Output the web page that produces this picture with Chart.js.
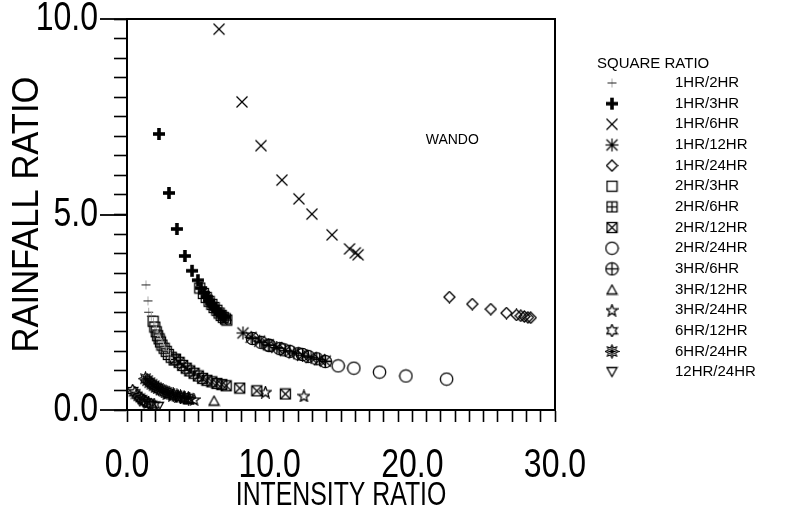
<!DOCTYPE html>
<html>
<head>
<meta charset="utf-8">
<script src="https://cdn.jsdelivr.net/npm/chart.js@4.4.1/dist/chart.umd.min.js"></script>
<style>
  html, body { margin: 0; padding: 0; background: #fff; }
  #wrap { width: 786px; height: 521px; }
</style>
</head>
<body>
<div id="wrap"><canvas id="c" width="786" height="521"></canvas></div>
<script>
// ---------------- DATA ----------------
const seriesLabels = ['1HR/2HR','1HR/3HR','1HR/6HR','1HR/12HR','1HR/24HR','2HR/3HR','2HR/6HR','2HR/12HR','2HR/24HR','3HR/6HR','3HR/12HR','3HR/24HR','6HR/12HR','6HR/24HR','12HR/24HR'];

const r1h2h = [[1.33,3.2],[1.47,2.79],[1.52,2.5],[1.7,2.4],[1.85,2.25],[1.95,2.15],[2.05,2.05],[2.15,1.95],[2.25,1.85],[2.35,1.78],[2.45,1.7],[2.55,1.63],[2.65,1.57],[2.75,1.5],[2.9,1.45],[3.05,1.38]];
const r1h3h = [[2.24,7.06],[2.94,5.55],[3.5,4.63],[4.06,3.94],[4.56,3.56],[4.97,3.32],[5.2,3.12],[5.4,3.0],[5.6,2.9],[5.75,2.8],[5.9,2.72],[6.05,2.65],[6.2,2.58],[6.35,2.52],[6.5,2.46],[6.65,2.42],[6.8,2.38]];
const r1h6h = [[6.45,9.74],[8.06,7.88],[9.39,6.76],[10.86,5.88],[12.05,5.4],[12.96,5.01],[14.37,4.48],[15.6,4.12],[16.0,4.02],[16.2,3.97]];
const r1h12h = [[8.13,1.97],[8.7,1.86],[9.3,1.76],[9.9,1.67],[10.5,1.6],[11.1,1.52],[11.7,1.46],[12.3,1.4],[12.9,1.34],[13.5,1.29],[13.9,1.25]];
const r1h24h = [[22.6,2.89],[24.2,2.71],[25.5,2.58],[26.6,2.48],[27.3,2.43],[27.6,2.41],[27.85,2.39],[28.1,2.37],[28.3,2.36]];
const r2h3h = [[1.83,2.27],[1.95,2.12],[2.05,2.0],[2.15,1.9],[2.25,1.82],[2.35,1.74],[2.45,1.66],[2.6,1.58],[2.75,1.5],[2.9,1.42],[3.1,1.35],[3.3,1.28]];
const r2h6h = [[5.1,3.12],[5.35,2.98],[5.55,2.88],[5.75,2.78],[5.95,2.7],[6.1,2.62],[6.3,2.55],[6.45,2.48],[6.6,2.42],[6.75,2.37],[6.9,2.33],[7.0,2.3]];
const r2h12h = [[3.4,1.3],[3.65,1.22],[3.9,1.14],[4.15,1.07],[4.4,1.0],[4.7,0.94],[5.0,0.87],[5.3,0.81],[5.6,0.76],[5.95,0.72],[6.3,0.68],[6.65,0.65],[6.95,0.62],[7.9,0.56],[9.1,0.49],[11.1,0.41]];
const r2h24h = [[9.9,1.66],[11.0,1.54],[12.3,1.42],[14.8,1.13],[15.9,1.07],[17.7,0.97],[19.55,0.87],[22.4,0.79]];
const r3h6h = [[8.8,1.83],[9.4,1.73],[10.0,1.65],[10.7,1.57],[11.4,1.5],[12.0,1.44],[12.7,1.37],[13.3,1.31],[13.9,1.24]];
const r3h12h = [[4.3,0.28],[6.1,0.24]];
const r3h24h = [[2.8,0.42],[3.2,0.38],[3.6,0.34],[4.0,0.31],[4.4,0.29],[4.7,0.27],[9.7,0.46],[12.4,0.36]];
const r6h12h = [[0.4,0.5],[0.55,0.44],[0.7,0.38],[0.85,0.33],[1.0,0.29],[1.15,0.25],[1.3,0.21],[1.5,0.18],[1.7,0.15],[1.9,0.13]];
const r6h24h = [[1.3,0.8],[1.45,0.75],[1.6,0.7],[1.75,0.66],[1.9,0.62],[2.05,0.58],[2.2,0.55],[2.4,0.51],[2.6,0.48],[2.8,0.45],[3.0,0.42],[3.25,0.39],[3.5,0.36],[3.75,0.34],[4.0,0.32],[4.3,0.3]];
const r12h24h = [[0.9,0.22],[1.2,0.16],[1.6,0.1],[2.2,0.08]];

const xTickValues = [0, 10, 20, 30];
const xTickLabels = ['0.0', '10.0', '20.0', '30.0'];
const yTickValues = [0, 5, 10];
const yTickLabels = ['0.0', '5.0', '10.0'];
const xTitle = 'INTENSITY RATIO';
const yTitle = 'RAINFALL RATIO';
const legendTitle = 'SQUARE RATIO';
const stationLabel = { text: 'WANDO', x: 22.8, y: 6.9 };

// ---------------- MARKERS ----------------
function mk(w, h, draw) {
  const c = document.createElement('canvas');
  c.width = w; c.height = h;
  const g = c.getContext('2d');
  g.strokeStyle = '#000'; g.fillStyle = '#000'; g.lineWidth = 1.3;
  draw(g, w, h);
  return c;
}
function line(g, a, b, c, d) { g.beginPath(); g.moveTo(a, b); g.lineTo(c, d); g.stroke(); }
function poly(g, pts) { g.beginPath(); g.moveTo(pts[0][0], pts[0][1]); for (let i = 1; i < pts.length; i++) g.lineTo(pts[i][0], pts[i][1]); g.closePath(); g.stroke(); }
function starPts(cx, cy, n, R, r, rot) {
  const p = [];
  for (let i = 0; i < 2 * n; i++) {
    const a = rot + i * Math.PI / n;
    const rr = i % 2 === 0 ? R : r;
    p.push([cx + rr * Math.sin(a), cy - rr * Math.cos(a)]);
  }
  return p;
}
const M = {
  dash: mk(11, 11, g => { g.lineWidth = 1; g.strokeStyle = '#aaa'; line(g, 5.5, 1, 5.5, 10); g.strokeStyle = '#222'; line(g, 1, 5.5, 10, 5.5); }),
  boldPlus: mk(14, 14, g => { g.lineWidth = 3.6; line(g, 7, 1, 7, 13); line(g, 1, 7, 13, 7); }),
  xMark: mk(14, 14, g => { line(g, 1.5, 1.5, 12.5, 12.5); line(g, 12.5, 1.5, 1.5, 12.5); }),
  asterisk: mk(15, 15, g => { g.lineWidth = 1.2; line(g, 2, 2, 13, 13); line(g, 13, 2, 2, 13); line(g, 7.5, 1, 7.5, 14); line(g, 1, 7.5, 14, 7.5); }),
  diamond: mk(13, 13, g => { poly(g, [[6.5, 1], [12, 6.5], [6.5, 12], [1, 6.5]]); }),
  square: mk(13, 13, g => { g.strokeRect(1.5, 1.5, 10, 10); }),
  squarePlus: mk(13, 13, g => { g.strokeRect(1.5, 1.5, 10, 10); line(g, 6.5, 1.5, 6.5, 11.5); line(g, 1.5, 6.5, 11.5, 6.5); }),
  squareX: mk(13, 13, g => { g.strokeRect(1.5, 1.5, 10, 10); line(g, 1.5, 1.5, 11.5, 11.5); line(g, 11.5, 1.5, 1.5, 11.5); }),
  circle: mk(15, 15, g => { g.beginPath(); g.arc(7.5, 7.5, 6.2, 0, Math.PI * 2); g.stroke(); }),
  circlePlus: mk(15, 15, g => { g.beginPath(); g.arc(7.5, 7.5, 6.2, 0, Math.PI * 2); g.stroke(); line(g, 7.5, 1.3, 7.5, 13.7); line(g, 1.3, 7.5, 13.7, 7.5); }),
  triangle: mk(13, 12, g => { poly(g, [[6.5, 1.5], [11.5, 10.5], [1.5, 10.5]]); }),
  star5: mk(13, 13, g => { poly(g, starPts(6.5, 7, 5, 6, 2.6, 0)); }),
  star6: mk(13, 13, g => { poly(g, starPts(6.5, 6.5, 6, 6, 3.4, 0)); }),
  burst: mk(15, 15, g => { g.lineWidth = 1.1; poly(g, starPts(7.5, 7.5, 8, 6.6, 3.8, 0)); line(g, 3.5, 7.5, 11.5, 7.5); line(g, 7.5, 3.5, 7.5, 11.5); line(g, 4.8, 4.8, 10.2, 10.2); line(g, 10.2, 4.8, 4.8, 10.2); }),
  invTriangle: mk(13, 12, g => { poly(g, [[1.5, 1.5], [11.5, 1.5], [6.5, 10.5]]); })
};

const seriesData = [r1h2h, r1h3h, r1h6h, r1h12h, r1h24h, r2h3h, r2h6h, r2h12h, r2h24h, r3h6h, r3h12h, r3h24h, r6h12h, r6h24h, r12h24h];
const seriesMarkers = [M.dash, M.boldPlus, M.xMark, M.asterisk, M.diamond, M.square, M.squarePlus, M.squareX, M.circle, M.circlePlus, M.triangle, M.star5, M.star6, M.burst, M.invTriangle];

const datasets = seriesLabels.map((lab, i) => ({
  label: lab,
  data: seriesData[i].map(p => ({ x: p[0], y: p[1] })),
  pointStyle: seriesMarkers[i],
  pointRadius: 6,
  pointHoverRadius: 6,
  showLine: false
}));

// ---------------- PLUGINS ----------------
const FONT = "'Liberation Sans', Arial, Helvetica, sans-serif";

function condText(ctx, text, x, y, size, sx, align, rot) {
  ctx.save();
  ctx.translate(x, y);
  if (rot) ctx.rotate(rot);
  ctx.scale(sx, 1);
  ctx.font = size + 'px ' + FONT;
  ctx.textAlign = align;
  ctx.textBaseline = 'middle';
  ctx.fillStyle = '#000';
  ctx.fillText(text, 0, 0);
  ctx.restore();
}

const frame = {
  id: 'frame',
  afterDraw(chart) {
    const { ctx, chartArea: a } = chart;
    const xs = chart.scales.x, ys = chart.scales.y;
    ctx.save();
    ctx.strokeStyle = '#000'; ctx.lineWidth = 2;
    ctx.strokeRect(a.left, a.top, a.right - a.left, a.bottom - a.top);
    // longer major ticks on the value axis
    ctx.lineWidth = 1.8;
    yTickValues.forEach(v => {
      const py = Math.round(ys.getPixelForValue(v));
      ctx.beginPath(); ctx.moveTo(a.left - 27, py); ctx.lineTo(a.left, py); ctx.stroke();
    });
    ctx.restore();
    // tick labels (condensed face)
    xTickValues.forEach((v, i) => condText(ctx, xTickLabels[i], xs.getPixelForValue(v), 466, 40, 0.8, 'center'));
    yTickValues.forEach((v, i) => condText(ctx, yTickLabels[i], a.left - 29, ys.getPixelForValue(v), 40, 0.8, 'right'));
    // axis titles
    condText(ctx, xTitle, (a.left + a.right) / 2, 496, 34, 0.73, 'center');
    condText(ctx, yTitle, 28, (a.top + a.bottom) / 2, 36, 0.96, 'center', -Math.PI / 2);
    // station label
    ctx.save();
    ctx.fillStyle = '#000';
    ctx.font = '14px ' + FONT;
    ctx.textAlign = 'center'; ctx.textBaseline = 'middle';
    ctx.fillText(stationLabel.text, xs.getPixelForValue(stationLabel.x), ys.getPixelForValue(stationLabel.y));
    ctx.restore();
  }
};

const sideLegend = {
  id: 'sideLegend',
  afterDraw(chart) {
    const { ctx } = chart;
    ctx.save();
    ctx.fillStyle = '#000';
    ctx.textBaseline = 'middle';
    ctx.textAlign = 'left';
    ctx.font = '15px ' + FONT;
    ctx.fillText(legendTitle, 597, 64);
    chart.data.datasets.forEach((ds, i) => {
      const y = 83 + i * 20.65;
      Chart.helpers.drawPoint(ctx, { pointStyle: ds.pointStyle, rotation: 0, borderWidth: 0 }, 612, y);
      ctx.fillText(ds.label, 675, y);
    });
    ctx.restore();
  }
};

// ---------------- CHART ----------------
new Chart(document.getElementById('c'), {
  type: 'scatter',
  data: { datasets },
  options: {
    responsive: false,
    animation: false,
    events: [],
    layout: { padding: { left: 0, top: 19, right: 231, bottom: 0 } },
    plugins: { legend: { display: false }, tooltip: { enabled: false } },
    scales: {
      x: {
        type: 'linear', min: 0, max: 30,
        afterFit(s) { s.height = 111; s.paddingLeft = 0; s.paddingRight = 0; },
        afterBuildTicks(s) { s.ticks = Array.from({ length: 31 }, (_, i) => ({ value: i })); },
        ticks: { display: false, autoSkip: false },
        grid: { drawOnChartArea: false, drawTicks: true, tickLength: 12, tickColor: '#000', tickWidth: 1.6 },
        border: { display: true, color: '#000', width: 2 },
        title: { display: false, text: xTitle }
      },
      y: {
        type: 'linear', min: 0, max: 10,
        afterFit(s) { s.width = 127; s.paddingTop = 0; s.paddingBottom = 0; },
        afterBuildTicks(s) { s.ticks = Array.from({ length: 21 }, (_, i) => ({ value: i * 0.5 })); },
        ticks: { display: false, autoSkip: false },
        grid: { drawOnChartArea: false, drawTicks: true, tickLength: 13, tickColor: '#000', tickWidth: 1.6 },
        border: { display: true, color: '#000', width: 2 },
        title: { display: false, text: yTitle }
      }
    }
  },
  plugins: [frame, sideLegend]
});
</script>
</body>
</html>
